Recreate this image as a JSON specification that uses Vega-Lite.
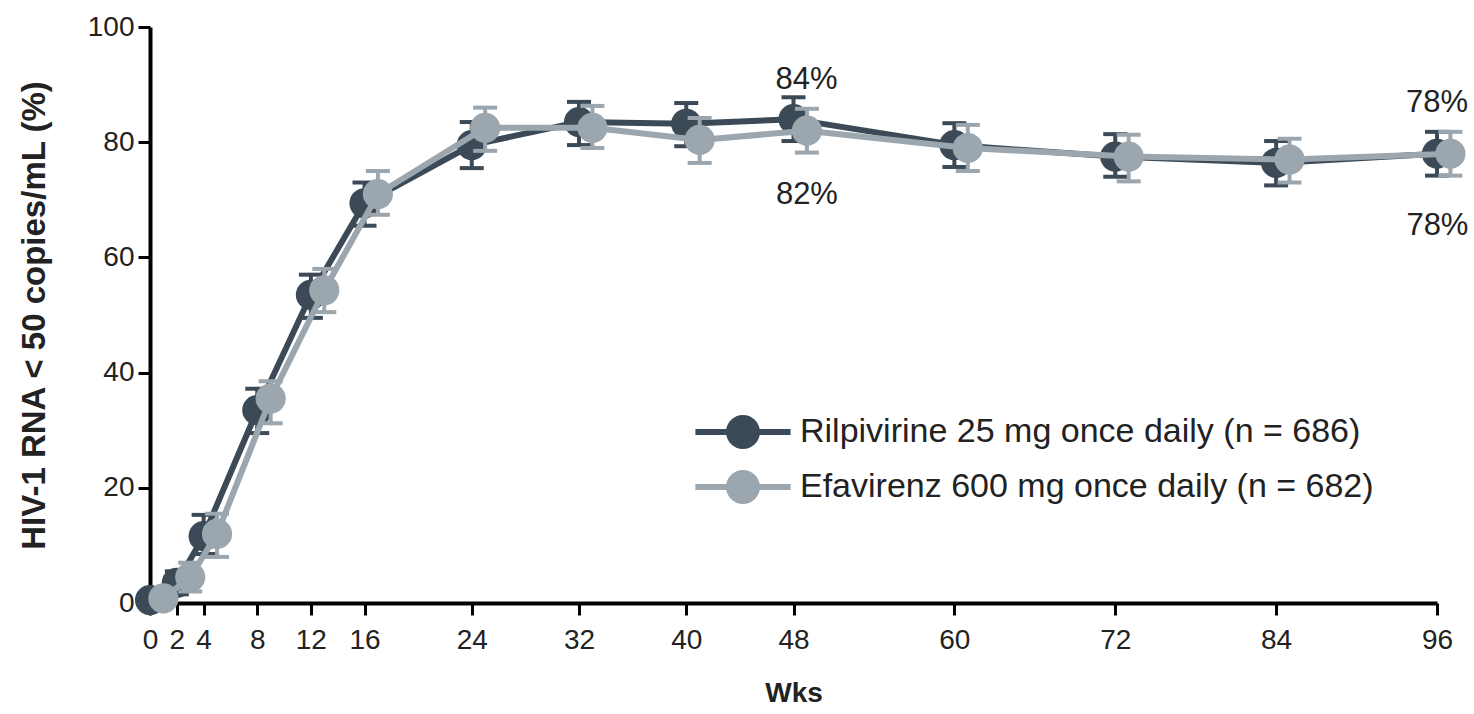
{
  "$schema": "https://vega.github.io/schema/vega-lite/v6.json",
  "width": 1287,
  "height": 576,
  "autosize": "none",
  "padding": {"left": 150, "top": 27, "right": 37, "bottom": 111},
  "config": {
    "view": {"stroke": null},
    "font": "Liberation Sans"
  },
  "datasets": {
    "trial": [
      {"arm": "Rilpivirine 25 mg once daily (n = 686)", "wk": 0, "pct": 0.5, "lo": 0, "hi": 1.5},
      {"arm": "Rilpivirine 25 mg once daily (n = 686)", "wk": 2, "pct": 3.5, "lo": 1.5, "hi": 5.5},
      {"arm": "Rilpivirine 25 mg once daily (n = 686)", "wk": 4, "pct": 11.6, "lo": 8.5, "hi": 15.3},
      {"arm": "Rilpivirine 25 mg once daily (n = 686)", "wk": 8, "pct": 33.5, "lo": 29.5, "hi": 37.2},
      {"arm": "Rilpivirine 25 mg once daily (n = 686)", "wk": 12, "pct": 53.5, "lo": 49.5, "hi": 57},
      {"arm": "Rilpivirine 25 mg once daily (n = 686)", "wk": 16, "pct": 69.4, "lo": 65.5, "hi": 73},
      {"arm": "Rilpivirine 25 mg once daily (n = 686)", "wk": 24, "pct": 79.5, "lo": 75.5, "hi": 83.5},
      {"arm": "Rilpivirine 25 mg once daily (n = 686)", "wk": 32, "pct": 83.5, "lo": 79.5, "hi": 87},
      {"arm": "Rilpivirine 25 mg once daily (n = 686)", "wk": 40, "pct": 83.2, "lo": 79.3, "hi": 86.8},
      {"arm": "Rilpivirine 25 mg once daily (n = 686)", "wk": 48, "pct": 84, "lo": 80.2, "hi": 87.8, "note": "84%"},
      {"arm": "Rilpivirine 25 mg once daily (n = 686)", "wk": 60, "pct": 79.5, "lo": 75.7, "hi": 83.3},
      {"arm": "Rilpivirine 25 mg once daily (n = 686)", "wk": 72, "pct": 77.5, "lo": 74, "hi": 81.4},
      {"arm": "Rilpivirine 25 mg once daily (n = 686)", "wk": 84, "pct": 76.4, "lo": 72.5, "hi": 80.2},
      {"arm": "Rilpivirine 25 mg once daily (n = 686)", "wk": 96, "pct": 78, "lo": 74.2, "hi": 81.8, "note": "78%"},
      {"arm": "Efavirenz 600 mg once daily (n = 682)", "wk": 0, "pct": 0.8, "lo": 0, "hi": 2},
      {"arm": "Efavirenz 600 mg once daily (n = 682)", "wk": 2, "pct": 4.5, "lo": 2, "hi": 7},
      {"arm": "Efavirenz 600 mg once daily (n = 682)", "wk": 4, "pct": 12, "lo": 8, "hi": 15.5},
      {"arm": "Efavirenz 600 mg once daily (n = 682)", "wk": 8, "pct": 35.5, "lo": 31.2, "hi": 38.5},
      {"arm": "Efavirenz 600 mg once daily (n = 682)", "wk": 12, "pct": 54.3, "lo": 50.5, "hi": 58},
      {"arm": "Efavirenz 600 mg once daily (n = 682)", "wk": 16, "pct": 71, "lo": 67.4, "hi": 75},
      {"arm": "Efavirenz 600 mg once daily (n = 682)", "wk": 24, "pct": 82.5, "lo": 78.5, "hi": 86},
      {"arm": "Efavirenz 600 mg once daily (n = 682)", "wk": 32, "pct": 82.5, "lo": 79, "hi": 86.3},
      {"arm": "Efavirenz 600 mg once daily (n = 682)", "wk": 40, "pct": 80.4, "lo": 76.4, "hi": 84.2},
      {"arm": "Efavirenz 600 mg once daily (n = 682)", "wk": 48, "pct": 82, "lo": 78.2, "hi": 85.8, "note": "82%"},
      {"arm": "Efavirenz 600 mg once daily (n = 682)", "wk": 60, "pct": 79, "lo": 75, "hi": 83},
      {"arm": "Efavirenz 600 mg once daily (n = 682)", "wk": 72, "pct": 77.5, "lo": 73.2, "hi": 81.3},
      {"arm": "Efavirenz 600 mg once daily (n = 682)", "wk": 84, "pct": 77, "lo": 73, "hi": 80.6},
      {"arm": "Efavirenz 600 mg once daily (n = 682)", "wk": 96, "pct": 78, "lo": 74.2, "hi": 81.8, "note": "78%"}
    ]
  },
  "data": {"name": "trial"},
  "layer": [
    {
      "transform": [{"filter": "datum.arm === 'Rilpivirine 25 mg once daily (n = 686)'"}],
      "encoding": {
        "x": {
          "field": "wk",
          "type": "quantitative",
          "scale": {"domain": [0, 96], "nice": false, "zero": false},
          "axis": {
            "title": "Wks",
            "values": [0, 2, 4, 8, 12, 16, 24, 32, 40, 48, 60, 72, 84, 96],
            "grid": false,
            "labelFontSize": 28,
            "labelColor": "#222222",
            "labelPadding": 11,
            "labelFlush": false,
            "labelOverlap": false,
            "tickSize": 12,
            "tickWidth": 3,
            "tickColor": "#000000",
            "domainWidth": 4,
            "domainColor": "#000000",
            "titleFontSize": 28,
            "titleFontWeight": "bold",
            "titleColor": "#222222",
            "titlePadding": 25
          }
        },
        "y": {
          "field": "pct",
          "type": "quantitative",
          "scale": {"domain": [0, 100], "nice": false},
          "axis": {
            "title": "HIV-1 RNA < 50 copies/mL (%)",
            "values": [0, 20, 40, 60, 80, 100],
            "grid": false,
            "labelFontSize": 28,
            "labelColor": "#222222",
            "labelPadding": 4,
            "labelFlush": false,
            "tickSize": 12,
            "tickWidth": 3,
            "tickColor": "#000000",
            "domainWidth": 4,
            "domainColor": "#000000",
            "titleFontSize": 33,
            "titleFontWeight": "bold",
            "titleColor": "#222222",
            "titlePadding": 36
          }
        }
      },
      "layer": [
        {"mark": {"type": "line", "color": "#3b4a56", "strokeWidth": 6, "clip": false}},
        {"mark": {"type": "rule", "color": "#3b4a56", "strokeWidth": 4, "clip": false}, "encoding": {"y": {"field": "lo", "type": "quantitative"}, "y2": {"field": "hi"}}},
        {"mark": {"type": "tick", "orient": "horizontal", "color": "#3b4a56", "size": 24, "thickness": 4, "opacity": 1, "clip": false}, "encoding": {"y": {"field": "lo", "type": "quantitative"}}},
        {"mark": {"type": "tick", "orient": "horizontal", "color": "#3b4a56", "size": 24, "thickness": 4, "opacity": 1, "clip": false}, "encoding": {"y": {"field": "hi", "type": "quantitative"}}},
        {
          "mark": {"type": "point", "shape": "circle", "filled": true, "size": 908, "opacity": 1, "clip": false},
          "encoding": {
            "color": {
              "field": "arm",
              "type": "nominal",
              "sort": null,
              "scale": {
                "domain": ["Rilpivirine 25 mg once daily (n = 686)", "Efavirenz 600 mg once daily (n = 682)"],
                "range": ["#3b4a56", "#9ba6ae"]
              },
              "legend": {
                "orient": "none",
                "legendX": 576,
                "legendY": 388,
                "title": null,
                "symbolType": "M -2.8 -0.18 H 2.8 V 0.18 H -2.8 Z M 1 0 A 1 1 0 1 1 -1 0 A 1 1 0 1 1 1 0 Z",
                "symbolSize": 1156,
                "symbolStrokeWidth": 0,
                "symbolOpacity": 1,
                "labelFontSize": 34,
                "labelColor": "#222222",
                "labelOffset": 40,
                "labelLimit": 900,
                "rowPadding": 21,
                "encode": {"symbols": {"update": {"size": {"value": 1156}, "strokeWidth": {"value": 0}}}}
              }
            }
          }
        },
        {
          "transform": [{"filter": "datum.wk === 48"}],
          "mark": {"type": "text", "fontSize": 31, "color": "#222222", "dx": 13, "dy": -39, "baseline": "middle"},
          "encoding": {"text": {"field": "note"}}
        },
        {
          "transform": [{"filter": "datum.wk === 96"}],
          "mark": {"type": "text", "fontSize": 31, "color": "#222222", "dx": 0, "dy": -51, "baseline": "middle"},
          "encoding": {"text": {"field": "note"}}
        }
      ]
    },
    {
      "transform": [{"filter": "datum.arm === 'Efavirenz 600 mg once daily (n = 682)'"}],
      "encoding": {
        "x": {
          "field": "wk",
          "type": "quantitative",
          "scale": {"domain": [-1, 95], "nice": false, "zero": false},
          "axis": null
        },
        "y": {"field": "pct", "type": "quantitative"}
      },
      "layer": [
        {"mark": {"type": "line", "color": "#9ba6ae", "strokeWidth": 6, "clip": false}},
        {"mark": {"type": "rule", "color": "#9ba6ae", "strokeWidth": 4, "clip": false}, "encoding": {"y": {"field": "lo", "type": "quantitative"}, "y2": {"field": "hi"}}},
        {"mark": {"type": "tick", "orient": "horizontal", "color": "#9ba6ae", "size": 24, "thickness": 4, "opacity": 1, "clip": false}, "encoding": {"y": {"field": "lo", "type": "quantitative"}}},
        {"mark": {"type": "tick", "orient": "horizontal", "color": "#9ba6ae", "size": 24, "thickness": 4, "opacity": 1, "clip": false}, "encoding": {"y": {"field": "hi", "type": "quantitative"}}},
        {
          "mark": {"type": "point", "shape": "circle", "filled": true, "size": 908, "opacity": 1, "clip": false},
          "encoding": {"color": {"field": "arm", "type": "nominal", "sort": null}}
        },
        {
          "transform": [{"filter": "datum.wk === 48"}],
          "mark": {"type": "text", "fontSize": 31, "color": "#222222", "dx": 0, "dy": 64, "baseline": "middle"},
          "encoding": {"text": {"field": "note"}}
        },
        {
          "transform": [{"filter": "datum.wk === 96"}],
          "mark": {"type": "text", "fontSize": 31, "color": "#222222", "dx": -13, "dy": 72, "baseline": "middle"},
          "encoding": {"text": {"field": "note"}}
        }
      ]
    }
  ],
  "resolve": {"scale": {"x": "independent"}}
}
